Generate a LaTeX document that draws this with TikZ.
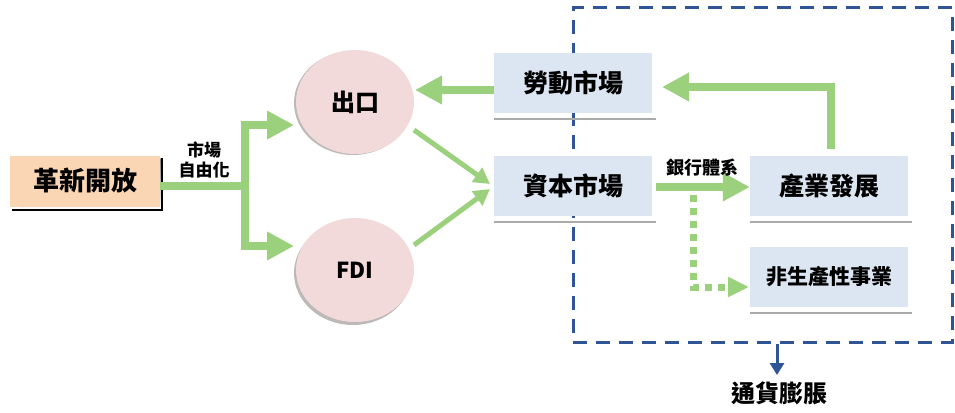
\documentclass[tikz,border=0pt]{standalone}
\usepackage{fontspec}
\setmainfont{Noto Sans CJK TC}
\usetikzlibrary{arrows.meta,shapes.geometric}
\definecolor{gArrow}{RGB}{155,208,125}
\definecolor{boxBlue}{RGB}{220,230,242}
\definecolor{circPink}{RGB}{242,218,218}
\definecolor{peach}{RGB}{251,214,180}
\definecolor{frameBlue}{RGB}{47,85,151}
\definecolor{shade}{RGB}{170,170,170}
\definecolor{cshade}{RGB}{190,185,185}
\tikzset{
  bluebox/.style={fill=boxBlue, minimum width=158pt, minimum height=60pt, inner sep=0pt, font=\bfseries\fontsize{25}{27}\selectfont},
  circnode/.style={ellipse, fill=circPink, minimum width=118pt, minimum height=104pt, inner sep=0pt, font=\bfseries\fontsize{24}{26}\selectfont},
  shadowline/.style={draw=shade, line width=2pt},
  fatarrow/.style={draw=gArrow, line width=8pt, line join=miter, -{Triangle[width=27pt,length=27pt]}},
  fatline/.style={draw=gArrow, line width=8pt, line join=miter},
  thinarrow/.style={draw=gArrow, line width=5pt, -{Triangle[width=17pt,length=16pt]}},
  dotarrow/.style={draw=gArrow, line width=7pt, dash pattern=on 7pt off 6pt, -{Triangle[width=19pt,length=21pt]}},
  framebox/.style={draw=frameBlue, line width=3pt, dash pattern=on 14pt off 9pt, minimum width=379pt, minimum height=334pt, inner sep=0pt},
  bluearrow/.style={draw=frameBlue, line width=3pt, -{Triangle[width=14pt,length=12pt]}},
}
\begin{document}
\begin{tikzpicture}[x=1pt,y=-1pt]
\useasboundingbox (0,0) rectangle (955,412);
% frame
\node[framebox] (frame) at (762.5,175) {};
% reform box
\draw[shade, line width=2.5pt] (12,210) -- (162,210) -- (162,158);
\node[fill=peach, minimum width=150pt, minimum height=51pt, inner sep=0pt, font=\bfseries\fontsize{26}{28}\selectfont] (reform) at (85,181) {革新開放};
\node[font=\bfseries\fontsize{17}{20}\selectfont, align=center, inner sep=0pt] (mkt) at (204,160) {市場\\自由化};
% circles
\fill[cshade] (353,103) ellipse (59pt and 52pt);
\fill[cshade] (353,273) ellipse (59pt and 52pt);
\node[circnode] (exp) at (355,102) {出口};
\node[circnode, font=\bfseries\fontsize{22}{24}\selectfont] (fdi) at (355,270) {FDI};
% blue boxes
\node[bluebox] (labor) at (573,83) {勞動市場};
\node[bluebox] (capital) at (573,186) {資本市場};
\node[bluebox] (ind) at (829,186) {產業發展};
\node[bluebox, font=\bfseries\fontsize{21}{23}\selectfont] (nonprod) at (829,277) {非生產性事業};
\foreach \b in {labor,capital,ind,nonprod}{
  \draw[shadowline] ([yshift=-6pt]\b.south west) -- ([xshift=4pt,yshift=-6pt]\b.south east);
}
% reform arrows
\coordinate (j) at (245,186);
\coordinate (ja) at (245,125);
\coordinate (jb) at (245,246);
\coordinate (ta) at (294,125);
\coordinate (tb) at (294,246);
\draw[fatline] (reform.east |- j) -- (j);
\draw[fatline, line cap=rect] (ja) -- (jb);
\draw[fatarrow] (ja) -- (ta);
\draw[fatarrow] (jb) -- (tb);
% labor -> export
\coordinate (lt) at (415,90);
\draw[fatarrow] (labor.west |- lt) -- (lt);
% export/fdi -> capital
\coordinate (e1) at (414,130);
\coordinate (c1) at (490,184);
\coordinate (f1) at (414,245);
\coordinate (c2) at (490,189);
\draw[thinarrow] (e1) -- (c1);
\draw[thinarrow] (f1) -- (c2);
% industry -> labor
\coordinate (u1) at (831,149);
\coordinate (u2) at (662,87);
\draw[fatarrow] (u1) |- (u2);
% capital -> industry
\coordinate (k1) at (656,187);
\draw[fatarrow] (k1) -- (ind.west |- k1);
\node[font=\bfseries\fontsize{18}{20}\selectfont, inner sep=0pt] (bank) at (702,168) {銀行體系};
% dotted
\coordinate (d1) at (693,195);
\coordinate (d2) at (749,287);
\draw[dotarrow] (d1) |- (d2);
% inflation
\node[font=\bfseries\fontsize{24}{26}\selectfont, inner sep=0pt] (inf) at (779,393) {通貨膨脹};
\draw[bluearrow] (frame.south -| 777,0) -- (777,375);
\end{tikzpicture}
\end{document}
